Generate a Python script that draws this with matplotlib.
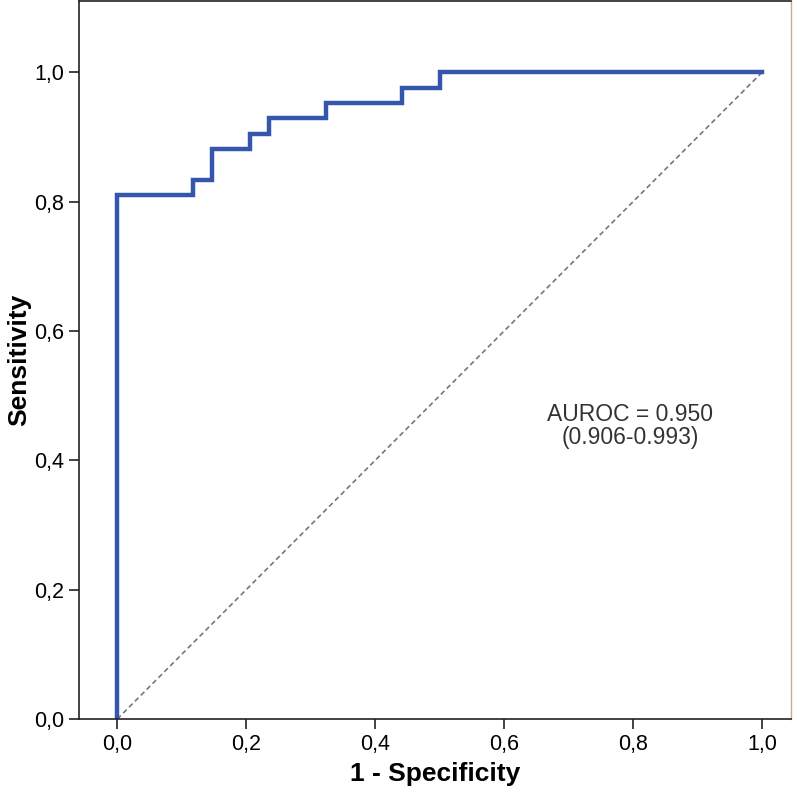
import matplotlib.pyplot as plt
import matplotlib.font_manager as fm

# ROC step points (1 - specificity, sensitivity)
fpr = [0.0, 0.0, 0.118, 0.118, 0.147, 0.147, 0.206, 0.206, 0.235, 0.235,
       0.324, 0.324, 0.441, 0.441, 0.5, 0.5, 1.0]
tpr = [0.0, 0.810, 0.810, 0.833, 0.833, 0.881, 0.881, 0.905, 0.905, 0.929,
       0.929, 0.952, 0.952, 0.976, 0.976, 1.0, 1.0]
ticks = [0.0, 0.2, 0.4, 0.6, 0.8, 1.0]
tick_labels = ['0,0', '0,2', '0,4', '0,6', '0,8', '1,0']

names = {f.name for f in fm.fontManager.ttflist}
narrow = 'Liberation Sans Narrow' if 'Liberation Sans Narrow' in names else 'Liberation Sans'

fig = plt.figure(figsize=(8, 7.99), dpi=100)
ax = fig.add_axes([0.099, 0.1001, 0.89, 0.8986])

ax.plot([0, 1], [0, 1], color='#777777', linestyle=(0, (3, 2)), linewidth=1.2)
ax.plot(fpr, tpr, color='#3456ad', linewidth=3.2, solid_joinstyle='miter')

ax.set_xlim(-0.059, 1.045)
ax.set_ylim(0.0, 1.11)
ax.set_xticks(ticks)
ax.set_xticklabels(tick_labels, family=narrow, fontsize=15.5)
ax.set_yticks(ticks)
ax.set_yticklabels(tick_labels, family=narrow, fontsize=15.5)
ax.tick_params(direction='out', length=7, width=1.2, color='#222222', pad=4)

ax.set_xlabel('1 - Specificity', family=narrow, fontsize=19, fontweight='bold', labelpad=5)
ax.set_ylabel('Sensitivity', family=narrow, fontsize=19, fontweight='bold', labelpad=2)

for side in ['left', 'bottom', 'top']:
    ax.spines[side].set_color('#222222')
    ax.spines[side].set_linewidth(1.2)
ax.spines['right'].set_color('#c8a89a')
ax.spines['right'].set_linewidth(1.0)

ax.text(0.795, 0.453, 'AUROC = 0.950\n(0.906-0.993)', ha='center', va='center',
        family='Liberation Sans', fontsize=16.5, color='#333333', linespacing=1.0)

fig.savefig('out.png', dpi=100)
